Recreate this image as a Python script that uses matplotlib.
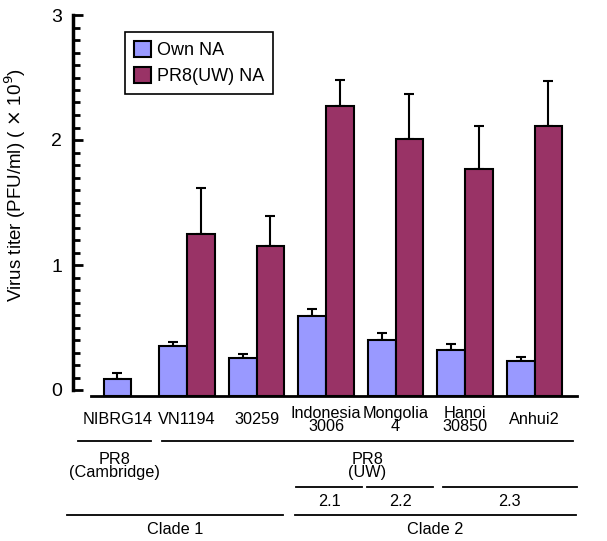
import numpy as np
import matplotlib.pyplot as plt
from matplotlib.ticker import MultipleLocator
from matplotlib.transforms import blended_transform_factory

plt.rcParams["font.family"] = ["Liberation Sans", "DejaVu Sans"]

strains = ["NIBRG14", "VN1194", "30259", "Indonesia\n3006", "Mongolia\n4", "Hanoi\n30850", "Anhui2"]
own_na = [0.09, 0.35, 0.26, 0.59, 0.40, 0.32, 0.23]
own_na_err = [0.045, 0.035, 0.025, 0.06, 0.055, 0.045, 0.035]
pr8_na = [np.nan, 1.25, 1.15, 2.27, 2.01, 1.77, 2.115]
pr8_na_err = [np.nan, 0.37, 0.24, 0.21, 0.36, 0.345, 0.355]

# annotation rows below the axis: (label, x_start, x_end)
backbone = [("PR8\n(Cambridge)", -0.57, 0.48), ("PR8\n(UW)", 0.64, 6.55)]
subclades = [("2.1", 2.57, 3.52), ("2.2", 3.59, 4.54), ("2.3", 4.68, 6.61)]
clades = [("Clade 1", -0.73, 2.38), ("Clade 2", 2.55, 6.6)]

BLUE = "#9999ff"
RED = "#993366"
y0 = -0.048
width = 0.4
fs_small = 11.7

fig = plt.figure(figsize=(6.07, 5.41), dpi=100)
ax = fig.add_axes([73 / 607, 145 / 541, 504 / 607, 381 / 541])

x = np.arange(len(strains), dtype=float)
own = np.array(own_na)
pr8 = np.array(pr8_na)
x_own = np.where(np.isnan(pr8), x, x - width / 2)

ax.bar(x_own, own - y0, bottom=y0, width=width, color=BLUE, edgecolor="black",
       linewidth=1.5, label="Own NA", zorder=2)
ax.bar(x + width / 2, pr8 - y0, bottom=y0, width=width, color=RED, edgecolor="black",
       linewidth=1.5, label="PR8(UW) NA", zorder=2)
ax.errorbar(x_own, own, yerr=[np.zeros_like(own), own_na_err], fmt="none",
            ecolor="black", elinewidth=1.5, capsize=3.3, capthick=1.5, zorder=1)
ax.errorbar(x + width / 2, pr8, yerr=[np.zeros_like(pr8), pr8_na_err], fmt="none",
            ecolor="black", elinewidth=1.5, capsize=3.3, capthick=1.5, zorder=1)

ax.set_xlim(-0.64, 6.61)
ax.set_ylim(y0, 3.0)
ax.spines["top"].set_visible(False)
ax.spines["right"].set_visible(False)
ax.spines["left"].set_bounds(0, 3)
ax.spines["left"].set_linewidth(2.5)
ax.spines["bottom"].set_bounds(-0.38, 6.61)
ax.spines["bottom"].set_linewidth(2.0)

ax.set_yticks([0, 1, 2, 3])
ax.set_yticklabels(["0", "1", "2", "3"], fontsize=14)
ax.yaxis.set_minor_locator(MultipleLocator(0.1))
ax.tick_params(axis="y", which="major", direction="in", length=7, width=2, pad=8)
ax.tick_params(axis="y", which="minor", direction="in", length=5, width=2)
ax.set_xticks([])

fig.text(15 / 607, (541 - 185) / 541, r"Virus titer (PFU/ml) ( $\times$ 10$^9$)",
         rotation=90, ha="center", va="center", fontsize=13.5)

leg = ax.legend(loc="upper left", bbox_to_anchor=(0.103, 0.955), fontsize=13,
                frameon=True, fancybox=False, edgecolor="black", framealpha=1,
                handlelength=0.95, handleheight=0.95, handletextpad=0.3,
                borderpad=0.5, labelspacing=0.45, borderaxespad=0)
leg.get_frame().set_linewidth(1.2)

trans = blended_transform_factory(ax.transData, ax.transAxes)

def row_y(px):
    return (396 - px) / 381

for xi, name in zip(x, strains):
    ax.text(xi, row_y(420), name, transform=trans, ha="center", va="center",
            fontsize=fs_small, linespacing=0.9, clip_on=False)

for name, xa, xb in backbone:
    ax.plot([xa, xb], [row_y(441)] * 2, color="black", lw=1.3, transform=trans, clip_on=False)
    ax.text((xa + xb) / 2, row_y(466), name, transform=trans, ha="center", va="center",
            fontsize=fs_small, linespacing=0.9, clip_on=False)

for name, xa, xb in subclades:
    ax.plot([xa, xb], [row_y(487)] * 2, color="black", lw=1.3, transform=trans, clip_on=False)
    ax.text((xa + xb) / 2, row_y(501), name, transform=trans, ha="center", va="center",
            fontsize=fs_small, clip_on=False)

for name, xa, xb in clades:
    ax.plot([xa, xb], [row_y(515)] * 2, color="black", lw=1.3, transform=trans, clip_on=False)
    ax.text((xa + xb) / 2, row_y(530), name, transform=trans, ha="center", va="center",
            fontsize=fs_small, clip_on=False)

fig.savefig("out.png", dpi=100)
